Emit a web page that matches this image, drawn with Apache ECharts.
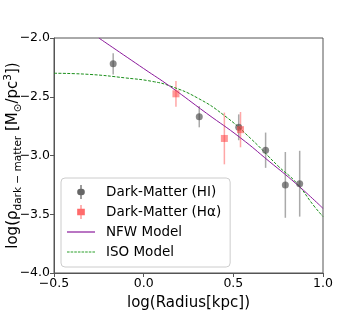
<!DOCTYPE html>
<html>
<head>
<meta charset="utf-8">
<script src="https://cdn.jsdelivr.net/npm/echarts@6/dist/echarts.min.js"></script>
<style>
  html, body { margin: 0; padding: 0; background: #fff; }
  #chart { width: 360px; height: 320px; }
</style>
</head>
<body>
<div id="chart"></div>
<script>
// observed points [log r, log rho, err]
const hiX = [-0.17, 0.31, 0.53, 0.68, 0.79, 0.87];
const hiY = [-2.22, -2.67, -2.76, -2.955, -3.25, -3.24];
const hiErr = [0.09, 0.09, 0.11, 0.15, 0.28, 0.28];

const haX = [0.18, 0.45, 0.54];
const haY = [-2.475, -2.855, -2.78];
const haErr = [0.11, 0.22, 0.15];

// model curves
const nfwX = [-0.25, 0.0, 0.15, 0.35, 0.54, 0.7, 0.85, 1.0];
const nfwY = [-2.0, -2.26, -2.415, -2.64, -2.85, -3.05, -3.24, -3.45];

const isoX = [-0.5, -0.3, -0.1, 0.05, 0.15, 0.3, 0.45, 0.6, 0.75, 0.85, 0.95, 1.0];
const isoY = [-2.30, -2.31, -2.34, -2.37, -2.41, -2.51, -2.66, -2.86, -3.09, -3.23, -3.43, -3.52];

const font = 'DejaVu Sans';

function pairs(xs, ys) {
  return xs.map((x, i) => [x, ys[i]]);
}

function errData(xs, ys, es) {
  return xs.map((x, i) => [x, ys[i] - es[i], ys[i] + es[i]]);
}

function errBars(color) {
  return function(params, api) {
    const lo = api.coord([api.value(0), api.value(1)]);
    const hi = api.coord([api.value(0), api.value(2)]);
    return {
      type: 'line',
      shape: { x1: lo[0], y1: lo[1], x2: hi[0], y2: hi[1] },
      style: { stroke: color, lineWidth: 1.5 }
    };
  };
}

const minus = v => v.toFixed(1).replace('-', '\u2212');

const axisCommon = {
  axisLine: { show: true, onZero: false, lineStyle: { color: '#555', width: 1 } },
  axisTick: { show: true, inside: false, length: 4, lineStyle: { color: '#555' } },
  splitLine: { show: false },
  nameMoveOverlap: false,
  axisLabel: { fontFamily: font, fontSize: 12.5, color: '#000', margin: 4, formatter: minus }
};

// legend icons for the two model lines (solid and dashed strokes)
const solidIcon = 'path://M0,0 L28,0 L28,1.2 L0,1.2 Z';
const dashIcon = 'path://M0,0 h2.5 v1.2 h-2.5 Z M3.5,0 h2.5 v1.2 h-2.5 Z M7,0 h2.5 v1.2 h-2.5 Z ' +
  'M10.5,0 h2.5 v1.2 h-2.5 Z M14,0 h2.5 v1.2 h-2.5 Z M17.5,0 h2.5 v1.2 h-2.5 Z ' +
  'M21,0 h2.5 v1.2 h-2.5 Z M24.5,0 h2.5 v1.2 h-2.5 Z';

const option = {
  animation: false,
  textStyle: { fontFamily: font },
  grid: {
    left: 54, right: 37, top: 38, bottom: 47,
    outerBoundsMode: 'none',
    show: true, borderColor: '#555', borderWidth: 1
  },
  xAxis: Object.assign({}, axisCommon, {
    type: 'value',
    min: -0.5,
    max: 1.0,
    interval: 0.5,
    name: 'log(Radius[kpc])',
    nameLocation: 'middle',
    nameGap: 23,
    nameTextStyle: { fontFamily: font, fontSize: 15, color: '#000' }
  }),
  yAxis: Object.assign({}, axisCommon, {
    type: 'value',
    min: -4.0,
    max: -2.0,
    interval: 0.5,
    name: 'log(ρ{sub|dark \u2212 matter} [M{sub|\u2299}/pc{sup|3}])',
    nameLocation: 'middle',
    nameRotate: 90,
    nameGap: 30,
    nameTextStyle: {
      fontFamily: font, fontSize: 15, color: '#000', lineHeight: 21,
      rich: {
        sub: { fontFamily: font, fontSize: 10.5, color: '#000', verticalAlign: 'bottom', lineHeight: 21 },
        sup: { fontFamily: font, fontSize: 10.5, color: '#000', verticalAlign: 'top', lineHeight: 21 }
      }
    }
  }),
  legend: {
    orient: 'vertical',
    left: 61,
    top: 178,
    padding: [7, 9, 8, 6],
    itemWidth: 28,
    itemHeight: 14,
    itemGap: 6,
    backgroundColor: 'rgba(255,255,255,0.8)',
    borderColor: '#ccc',
    borderWidth: 1,
    borderRadius: 4,
    textStyle: { fontFamily: font, fontSize: 13.5, color: '#000', padding: [0, 0, 0, 6] },
    data: [
      { name: 'Dark-Matter (HI)', icon: 'path://M4.5,0 L5.5,0 L5.5,3 A2.5,2.5 0 0 1 5.5,8 L5.5,11 L4.5,11 L4.5,8 A2.5,2.5 0 0 1 4.5,3 Z' },
      { name: 'Dark-Matter (Hα)', icon: 'path://M4.6,0 L5.4,0 L5.4,3 L8,3 L8,8 L5.4,8 L5.4,11 L4.6,11 L4.6,8 L2,8 L2,3 L4.6,3 Z' },
      { name: 'NFW Model', icon: solidIcon },
      { name: 'ISO Model', icon: dashIcon }
    ]
  },
  series: [
    {
      name: 'ISO Model',
      type: 'line',
      smooth: true,
      showSymbol: false,
      symbol: 'none',
      data: pairs(isoX, isoY),
      lineStyle: { color: '#1a8f1a', width: 1, type: [3, 1.5] },
      itemStyle: { color: '#2aa02a' },
      z: 3
    },
    {
      name: 'NFW Model',
      type: 'line',
      smooth: true,
      showSymbol: false,
      symbol: 'none',
      data: pairs(nfwX, nfwY),
      lineStyle: { color: '#8b1a9b', width: 1 },
      itemStyle: { color: '#8b1a9b' },
      z: 3
    },
    {
      name: 'Dark-Matter (HI)',
      type: 'custom',
      renderItem: errBars('rgba(85,85,85,0.5)'),
      data: errData(hiX, hiY, hiErr),
      itemStyle: { color: '#666' },
      z: 2
    },
    {
      name: 'Dark-Matter (HI)',
      type: 'scatter',
      symbol: 'circle',
      symbolSize: 7,
      data: pairs(hiX, hiY),
      itemStyle: { color: 'rgba(70,70,70,0.8)' },
      z: 4
    },
    {
      name: 'Dark-Matter (Hα)',
      type: 'custom',
      renderItem: errBars('rgba(255,80,80,0.5)'),
      data: errData(haX, haY, haErr),
      itemStyle: { color: '#ff6b6b' },
      z: 2
    },
    {
      name: 'Dark-Matter (Hα)',
      type: 'scatter',
      symbol: 'rect',
      symbolSize: 7,
      data: pairs(haX, haY),
      itemStyle: { color: 'rgba(255,70,70,0.7)' },
      z: 4
    }
  ]
};

const chart = echarts.init(document.getElementById('chart'), null, { renderer: 'canvas' });
chart.setOption(option);
</script>
</body>
</html>
